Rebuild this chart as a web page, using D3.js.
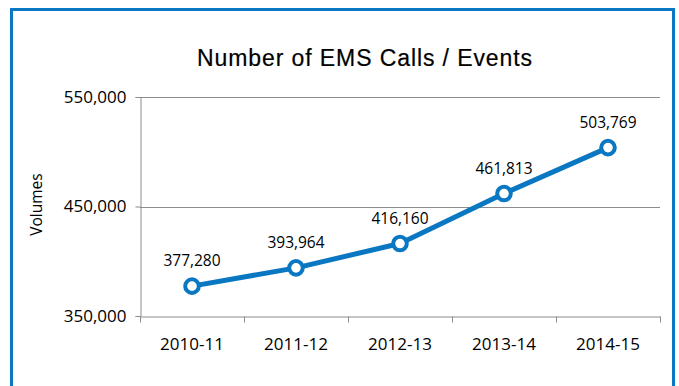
<!DOCTYPE html>
<html>
<head>
<meta charset="utf-8">
<script src="https://cdn.jsdelivr.net/npm/d3@7"></script>
<style>
  html, body { margin: 0; padding: 0; background: #fff; }
  svg { display: block; }
</style>
</head>
<body>
<svg id="chart" width="679" height="386"></svg>
<script>
// Fiscal years and call volumes
const years = ["2010-11", "2011-12", "2012-13", "2013-14", "2014-15"];
const calls = [377280, 393964, 416160, 461813, 503769];
const yTicks = [350000, 450000, 550000];

const W = 679, H = 386;
const margin = { left: 140, right: 19, top: 97, bottom: 70 };
const blue = "#0a77c2";
const grid = "#8c8c8c";
const labelFont = "'Open Sans', sans-serif";

const svg = d3.select("#chart");

// Outer frame
svg.append("rect")
  .attr("x", 11.5).attr("y", 9.5)
  .attr("width", 662).attr("height", 400)
  .attr("fill", "#fff")
  .attr("stroke", blue)
  .attr("stroke-width", 3);

// Title
svg.append("text")
  .attr("x", 365).attr("y", 66)
  .attr("text-anchor", "middle")
  .attr("font-family", "'Liberation Sans', Arial, sans-serif")
  .attr("font-size", 23)
  .attr("letter-spacing", 0.9)
  .attr("fill", "#000")
  .attr("stroke", "#000")
  .attr("stroke-width", 0.2)
  .text("Number of EMS Calls / Events");

const x = d3.scaleBand()
  .domain(years)
  .range([margin.left, W - margin.right]);

const y = d3.scaleLinear()
  .domain([350000, 550000])
  .range([H - margin.bottom, margin.top]);

// Horizontal gridlines
svg.append("g")
  .selectAll("line")
  .data(yTicks.slice(1))
  .join("line")
  .attr("x1", margin.left).attr("x2", W - margin.right)
  .attr("y1", d => Math.round(y(d)) + 0.5)
  .attr("y2", d => Math.round(y(d)) + 0.5)
  .attr("stroke", grid)
  .attr("stroke-width", 1);

// Y axis
const yAxis = svg.append("g")
  .attr("transform", `translate(${margin.left + 0.5},0)`)
  .call(d3.axisLeft(y)
    .tickValues(yTicks)
    .tickSize(5)
    .tickPadding(9)
    .tickFormat(d3.format(",")));

// X axis with ticks at band boundaries
const xAxis = svg.append("g")
  .attr("transform", `translate(0,${Math.round(y(350000)) + 0.5})`)
  .call(d3.axisBottom(x).tickSize(0).tickPadding(21));

xAxis.selectAll(".tick-edge")
  .data(years.map(d => x(d)).concat([x(years[years.length - 1]) + x.bandwidth()]))
  .join("line")
  .attr("class", "tick-edge")
  .attr("x1", d => Math.round(d) + 0.5)
  .attr("x2", d => Math.round(d) + 0.5)
  .attr("y1", 0).attr("y2", 6)
  .attr("stroke", grid);

[yAxis, xAxis].forEach(g => {
  g.select(".domain").attr("stroke", grid);
  g.selectAll(".tick line").attr("stroke", grid);
  g.selectAll("text")
    .attr("font-family", labelFont)
    .attr("font-size", 17)
    .attr("fill", "#000");
});

// Axis title
svg.append("text")
  .attr("transform", `translate(42,${y(450000) - 2}) rotate(-90)`)
  .attr("text-anchor", "middle")
  .attr("font-family", labelFont)
  .attr("font-size", 15.5)
  .attr("fill", "#000")
  .text("Volumes");

const cx = (d, i) => x(years[i]) + x.bandwidth() / 2;

// Series line
svg.append("path")
  .datum(calls)
  .attr("fill", "none")
  .attr("stroke", blue)
  .attr("stroke-width", 5)
  .attr("stroke-linejoin", "round")
  .attr("d", d3.line().x(cx).y(d => y(d)));

// Markers
svg.append("g")
  .selectAll("circle")
  .data(calls)
  .join("circle")
  .attr("cx", cx)
  .attr("cy", d => y(d))
  .attr("r", 6.8)
  .attr("fill", "#fff")
  .attr("stroke", blue)
  .attr("stroke-width", 4);

// Value labels
svg.append("g")
  .selectAll("text")
  .data(calls)
  .join("text")
  .attr("x", cx)
  .attr("y", d => y(d) - 20)
  .attr("text-anchor", "middle")
  .attr("font-family", labelFont)
  .attr("font-size", 15.5)
  .attr("fill", "#000")
  .text(d3.format(","));
</script>
</body>
</html>
